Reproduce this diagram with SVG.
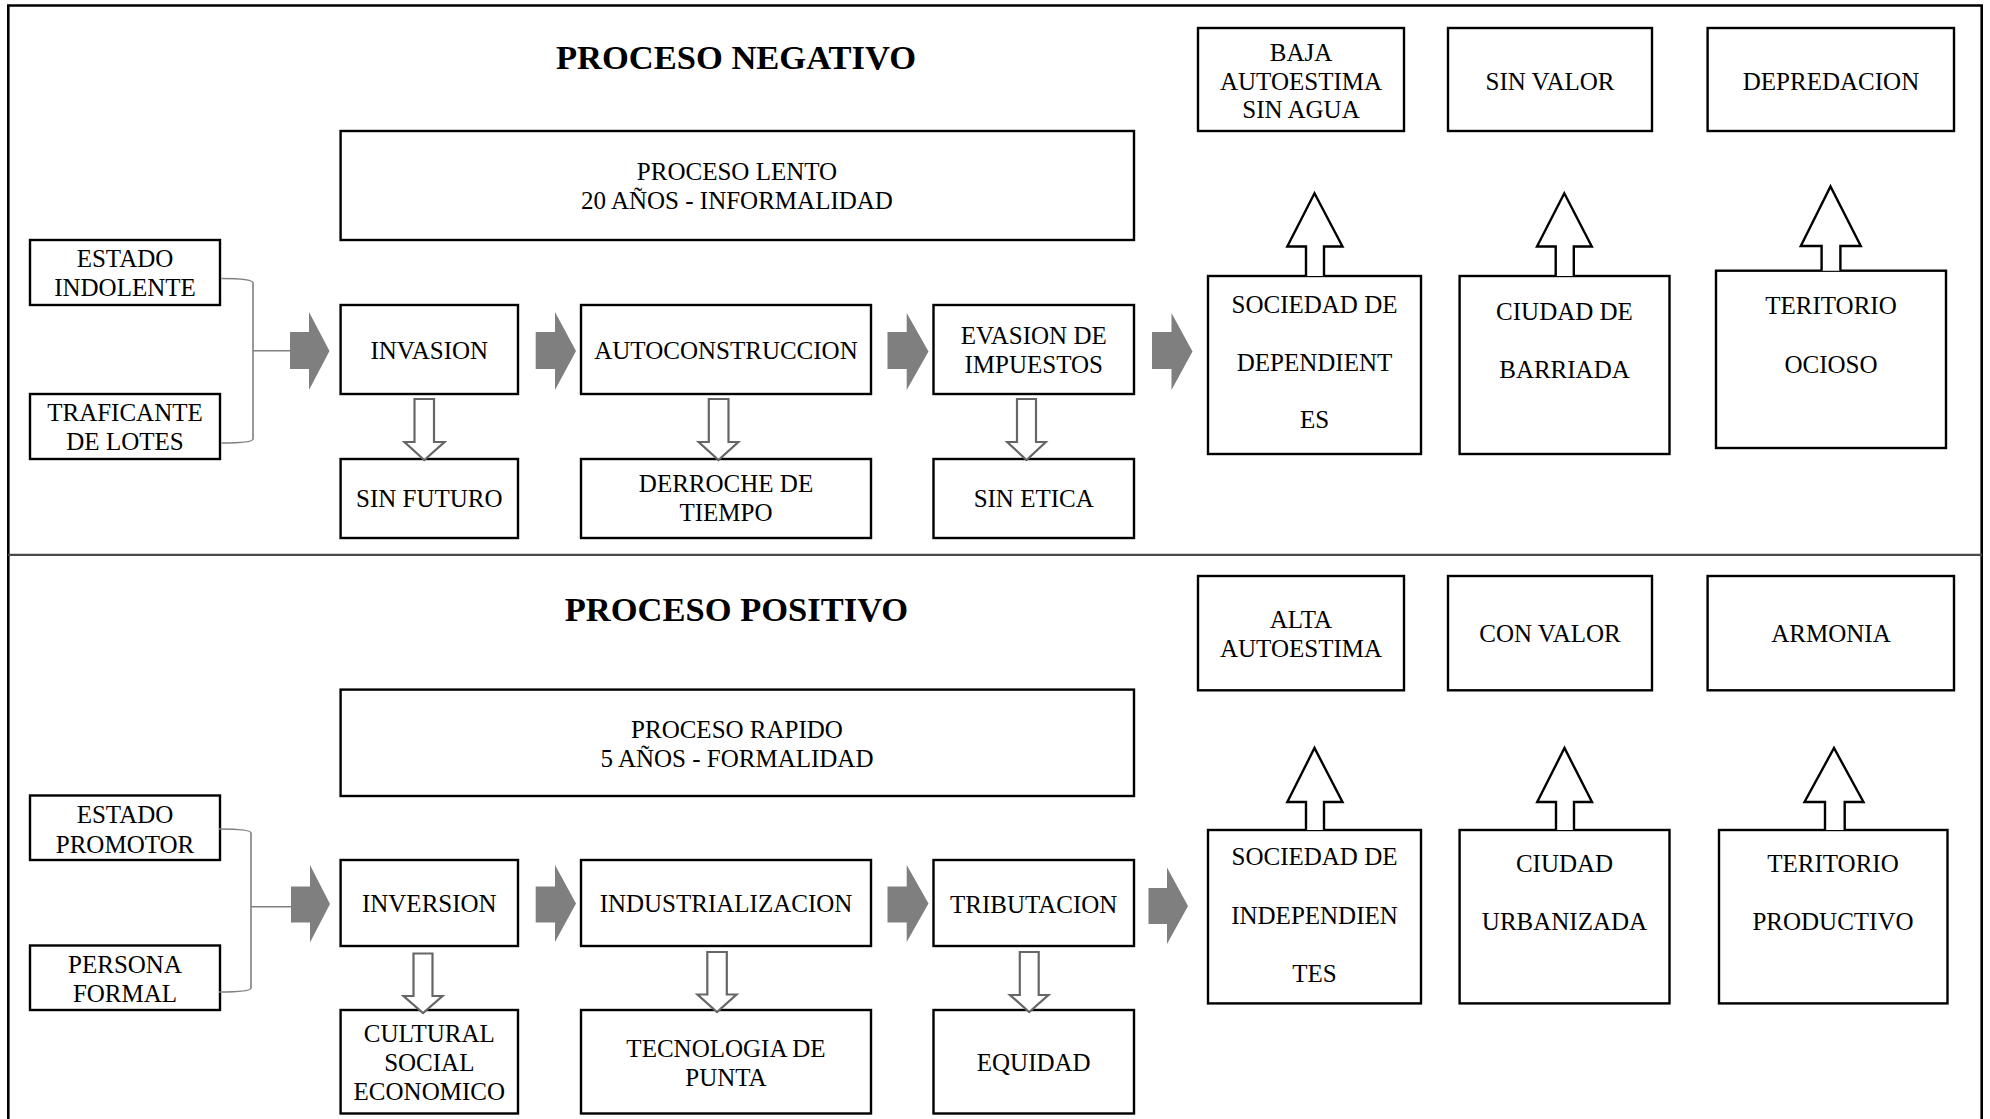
<svg xmlns="http://www.w3.org/2000/svg" width="1990" height="1119" viewBox="0 0 1990 1119">
<style>
.box{fill:#fff;stroke:#000;stroke-width:2.4}
.t{font-family:"Liberation Serif","Times New Roman",serif;font-size:25px;fill:#000;text-anchor:middle}
.title{font-family:"Liberation Serif","Times New Roman",serif;font-size:34.5px;font-weight:bold;fill:#000;text-anchor:middle}
.garrow{fill:#7f7f7f;stroke:none}
.darrow{fill:#fff;stroke:#666;stroke-width:2.2;stroke-linejoin:miter}
.uarrow{fill:#fff;stroke:#000;stroke-width:2.4;stroke-linejoin:miter}
.brk{fill:none;stroke:#808080;stroke-width:1.6}
</style>
<rect width="1990" height="1119" fill="#fff"/>
<path d="M8.3,1130 V5.5 H1981.7 V1130" fill="none" stroke="#000" stroke-width="2.6"/>
<line x1="8" y1="554.8" x2="1982" y2="554.8" stroke="#4a4a4a" stroke-width="2.2"/>

<g id="title-negativo"><text class="title" x="736" y="68.5">PROCESO NEGATIVO</text></g>
<g id="title-positivo"><text class="title" x="736.5" y="620.5">PROCESO POSITIVO</text></g>

<!-- TOP HALF NODES -->
<g id="proceso-lento"><rect class="box" x="340.6" y="131" width="793.4" height="109"/><text class="t" x="737" y="179.5">PROCESO LENTO</text><text class="t" x="737" y="209">20 AÑOS - INFORMALIDAD</text></g>
<g id="estado-indolente"><rect class="box" x="30" y="240" width="190" height="65"/><text class="t" x="125" y="267.2">ESTADO</text><text class="t" x="125" y="295.7">INDOLENTE</text></g>
<g id="traficante"><rect class="box" x="30" y="394" width="190" height="65"/><text class="t" x="125" y="421.2">TRAFICANTE</text><text class="t" x="125" y="450.2">DE LOTES</text></g>
<g id="invasion"><rect class="box" x="340.6" y="305" width="177.4" height="89"/><text class="t" x="429.3" y="359.2">INVASION</text></g>
<g id="autoconstruccion"><rect class="box" x="581" y="305" width="290" height="89"/><text class="t" x="726" y="359.2">AUTOCONSTRUCCION</text></g>
<g id="evasion"><rect class="box" x="933.5" y="305" width="200.5" height="89"/><text class="t" x="1033.7" y="344">EVASION DE</text><text class="t" x="1033.7" y="373.2">IMPUESTOS</text></g>
<g id="sin-futuro"><rect class="box" x="340.6" y="459" width="177.4" height="79"/><text class="t" x="429.3" y="507.2">SIN FUTURO</text></g>
<g id="derroche"><rect class="box" x="581" y="459" width="290" height="79"/><text class="t" x="726" y="492.2">DERROCHE DE</text><text class="t" x="726" y="521.2">TIEMPO</text></g>
<g id="sin-etica"><rect class="box" x="933.5" y="459" width="200.5" height="79"/><text class="t" x="1033.7" y="507.2">SIN ETICA</text></g>
<g id="baja-autoestima"><rect class="box" x="1198" y="28" width="206" height="103"/><text class="t" x="1301" y="61.2">BAJA</text><text class="t" x="1301" y="89.6">AUTOESTIMA</text><text class="t" x="1301" y="118.2">SIN AGUA</text></g>
<g id="sin-valor"><rect class="box" x="1448" y="28" width="204" height="103"/><text class="t" x="1550" y="89.6">SIN VALOR</text></g>
<g id="depredacion"><rect class="box" x="1707.6" y="28" width="246.4" height="103"/><text class="t" x="1831" y="89.6">DEPREDACION</text></g>
<g id="sociedad-dependientes"><rect class="box" x="1208" y="276" width="213" height="178"/><text class="t" x="1314.5" y="313.2">SOCIEDAD DE</text><text class="t" x="1314.5" y="370.7">DEPENDIENT</text><text class="t" x="1314.5" y="427.8">ES</text></g>
<g id="ciudad-barriada"><rect class="box" x="1459.6" y="276" width="209.9" height="178"/><text class="t" x="1564.5" y="320.2">CIUDAD DE</text><text class="t" x="1564.5" y="377.8">BARRIADA</text></g>
<g id="territorio-ocioso"><rect class="box" x="1716" y="270.7" width="230" height="177.3"/><text class="t" x="1831" y="314.2">TERITORIO</text><text class="t" x="1831" y="373.2">OCIOSO</text></g>

<!-- BOTTOM HALF NODES -->
<g id="proceso-rapido"><rect class="box" x="340.6" y="689.6" width="793.4" height="106.4"/><text class="t" x="737" y="738.2">PROCESO RAPIDO</text><text class="t" x="737" y="767.2">5 AÑOS - FORMALIDAD</text></g>
<g id="estado-promotor"><rect class="box" x="30" y="795.5" width="190" height="64.5"/><text class="t" x="125" y="823.2">ESTADO</text><text class="t" x="125" y="852.8">PROMOTOR</text></g>
<g id="persona-formal"><rect class="box" x="30" y="945.5" width="190" height="64.5"/><text class="t" x="125" y="972.9">PERSONA</text><text class="t" x="125" y="1002.2">FORMAL</text></g>
<g id="inversion"><rect class="box" x="340.6" y="860" width="177.4" height="86"/><text class="t" x="429.3" y="911.9">INVERSION</text></g>
<g id="industrializacion"><rect class="box" x="581" y="860" width="290" height="86"/><text class="t" x="726" y="911.9">INDUSTRIALIZACION</text></g>
<g id="tributacion"><rect class="box" x="933.5" y="860" width="200.5" height="86"/><text class="t" x="1033.7" y="913">TRIBUTACION</text></g>
<g id="cultural-social-economico"><rect class="box" x="340.6" y="1010" width="177.4" height="103.5"/><text class="t" x="429.3" y="1041.9">CULTURAL</text><text class="t" x="429.3" y="1071.2">SOCIAL</text><text class="t" x="429.3" y="1100.2">ECONOMICO</text></g>
<g id="tecnologia"><rect class="box" x="581" y="1010" width="290" height="103.5"/><text class="t" x="726" y="1057.2">TECNOLOGIA DE</text><text class="t" x="726" y="1085.5">PUNTA</text></g>
<g id="equidad"><rect class="box" x="933.5" y="1010" width="200.5" height="103.5"/><text class="t" x="1033.7" y="1070.7">EQUIDAD</text></g>
<g id="alta-autoestima"><rect class="box" x="1198" y="576" width="206" height="114.3"/><text class="t" x="1301" y="627.6">ALTA</text><text class="t" x="1301" y="657.2">AUTOESTIMA</text></g>
<g id="con-valor"><rect class="box" x="1448" y="576" width="204" height="114.3"/><text class="t" x="1550" y="642.2">CON VALOR</text></g>
<g id="armonia"><rect class="box" x="1707.6" y="576" width="246.4" height="114.3"/><text class="t" x="1831" y="642.2">ARMONIA</text></g>
<g id="sociedad-independientes"><rect class="box" x="1208" y="830" width="213" height="173.4"/><text class="t" x="1314.5" y="865">SOCIEDAD DE</text><text class="t" x="1314.5" y="923.7">INDEPENDIEN</text><text class="t" x="1314.5" y="982.2">TES</text></g>
<g id="ciudad-urbanizada"><rect class="box" x="1459.6" y="830" width="209.9" height="173.4"/><text class="t" x="1564.5" y="872.2">CIUDAD</text><text class="t" x="1564.5" y="930.2">URBANIZADA</text></g>
<g id="territorio-productivo"><rect class="box" x="1719" y="830" width="228.5" height="173.4"/><text class="t" x="1833" y="872.2">TERITORIO</text><text class="t" x="1833" y="930.2">PRODUCTIVO</text></g>

<!-- CONNECTORS -->
<g id="connectors">
  <!-- brackets -->
  <path class="brk" d="M221.5,278.5 Q253,278.5 253,283 V439 Q253,443 221.5,443"/>
  <line class="brk" x1="253" y1="350.8" x2="290" y2="350.8"/>
  <path class="brk" d="M219,829 Q251,829 251,833 V988 Q251,992 219,992"/>
  <line class="brk" x1="251" y1="906.7" x2="291" y2="906.7"/>

  <!-- gray block arrows, top -->
  <path class="garrow" d="M290,332 H309 V312 L329.5,351 L309,390 V369 H290 Z"/>
  <path class="garrow" d="M535.7,332 H555 V312 L576,351 L555,390 V369 H535.7 Z"/>
  <path class="garrow" d="M887.5,332 H906.7 V313 L928.5,351.5 L906.7,390 V369 H887.5 Z"/>
  <path class="garrow" d="M1152,332 H1171.5 V313 L1192.5,351.5 L1171.5,390 V369 H1152 Z"/>
  <!-- gray block arrows, bottom -->
  <path class="garrow" d="M291,886.4 H310 V865 L330,904 L310,942.5 V922.6 H291 Z"/>
  <path class="garrow" d="M535.7,886.4 H555 V865 L576,903.5 L555,942 V922.6 H535.7 Z"/>
  <path class="garrow" d="M887.5,886.4 H906.7 V865 L928.5,903.5 L906.7,942 V922.6 H887.5 Z"/>
  <path class="garrow" d="M1148.5,888 H1167 V867.5 L1188,906 L1167,944 V924 H1148.5 Z"/>

  <!-- hollow down arrows, top -->
  <path class="darrow" d="M414.5,399 H434 V442 H444.5 L424.3,460 L404.5,442 H414.5 Z"/>
  <path class="darrow" d="M708.8,399 H728.5 V442 H738.3 L718.5,460 L698.7,442 H708.8 Z"/>
  <path class="darrow" d="M1017,399 H1036 V442 H1045.8 L1026.5,460 L1007.2,442 H1017 Z"/>
  <!-- hollow down arrows, bottom -->
  <path class="darrow" d="M413.5,953.5 H432.5 V996 H442.5 L423,1013 L403.5,996 H413.5 Z"/>
  <path class="darrow" d="M707.3,952 H726.8 V994.5 H736.5 L717,1012 L697.5,994.5 H707.3 Z"/>
  <path class="darrow" d="M1019.8,952 H1038.7 V995 H1048.4 L1029.2,1012 L1010,995 H1019.8 Z"/>

  <!-- hollow up arrows, top -->
  <path class="uarrow" d="M1306,276 V246.5 H1287.3 L1314.5,193.3 L1342.5,246.5 H1324 V276"/>
  <path class="uarrow" d="M1555.7,276 V246.5 H1537 L1564.3,193.3 L1591.8,246.5 H1573.8 V276"/>
  <path class="uarrow" d="M1821.6,270.7 V246 H1800.8 L1830.5,186.4 L1860.8,246 H1840.4 V270.7"/>
  <!-- hollow up arrows, bottom -->
  <path class="uarrow" d="M1306,830 V802 H1287.3 L1314.5,748 L1342.5,802 H1324 V830"/>
  <path class="uarrow" d="M1556,830 V802 H1537.2 L1564.5,748 L1592,802 H1574 V830"/>
  <path class="uarrow" d="M1825,830 V802 H1804.5 L1834,748 L1863.5,802 H1844.7 V830"/>
</g>
</svg>
